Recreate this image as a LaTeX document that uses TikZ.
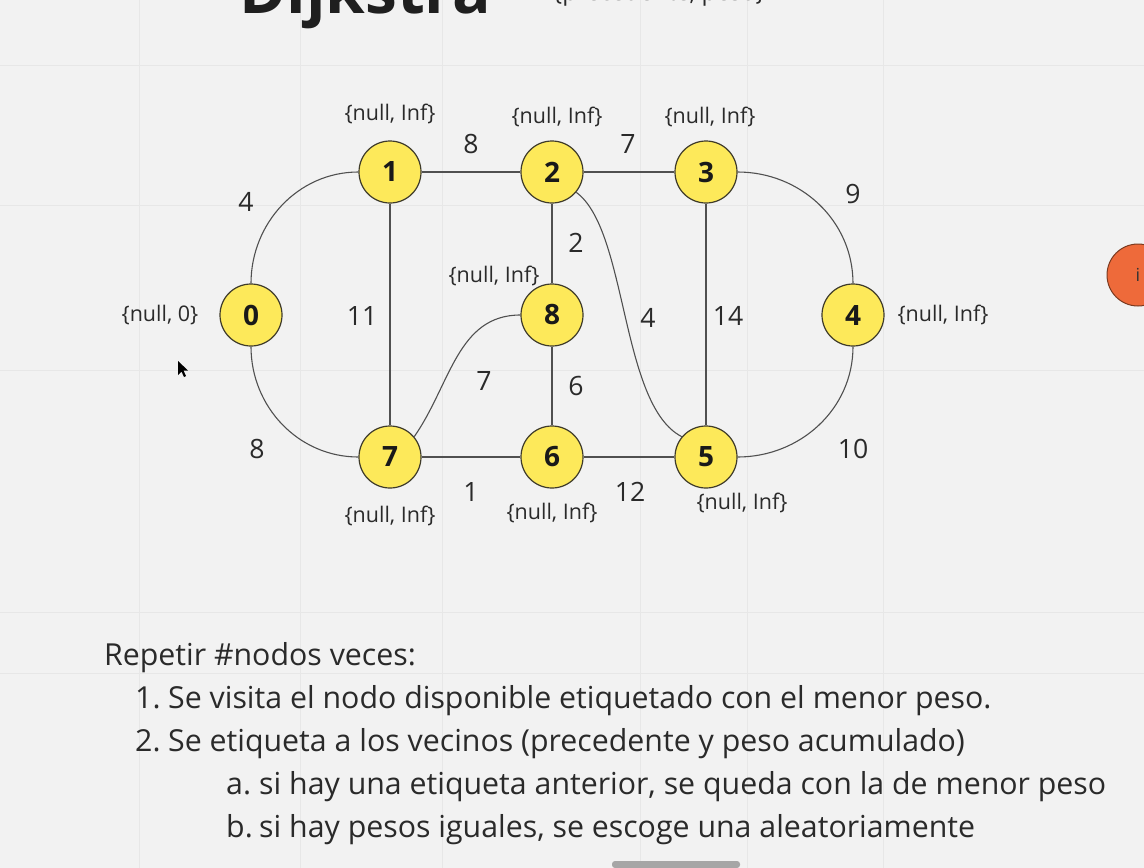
\documentclass[tikz,border=0pt]{standalone}
\usepackage{fontspec}
\setmainfont{Open Sans}
\definecolor{bg}{HTML}{F2F2F2}
\definecolor{gridc}{HTML}{E7E7E7}
\definecolor{nodefill}{HTML}{FDE95A}
\definecolor{nodeedge}{HTML}{3F3B2A}
\definecolor{edgec}{HTML}{505050}
\definecolor{txt}{HTML}{2A2A2A}
\definecolor{orangec}{HTML}{EE6A3A}
\definecolor{orangeedge}{HTML}{7A3A20}
\begin{document}
\begin{tikzpicture}[x=1pt,y=-1pt,
  vert/.style={circle,draw=nodeedge,line width=1.2pt,fill=nodefill,minimum size=62pt,inner sep=0pt,
    font=\fontsize{28}{32}\selectfont\bfseries,text=black!90},
  edge/.style={draw=edgec,line width=1.1pt},
  wlabel/.style={font=\fontsize{26.6}{30}\selectfont,text=txt,inner sep=0pt},
  slabel/.style={font=\fontsize{21.5}{26}\selectfont,text=txt,inner sep=0pt},
  body/.style={font=\fontsize{30.3}{36}\selectfont,text=txt,inner sep=0pt,anchor=base west}]
\useasboundingbox (0,0) rectangle (1144,868);
\begin{scope}
\clip (0,0) rectangle (1144,868);
\fill[bg] (0,0) rectangle (1144,868);
% faint grid
\foreach \yy in {65,205,370,612,673} \draw[gridc,line width=0.8pt] (0,\yy) -- (1144,\yy);
\foreach \xx in {139,300,442,640,747,883} \draw[gridc,line width=0.8pt] (\xx,0) -- (\xx,868);
% title (cut off at the top, as in the reference)
\node[anchor=base west,inner sep=0pt,font=\fontsize{64}{70}\selectfont\bfseries,text=black!88] (title) at (239,13) {Dijkstra};
\node[anchor=base west,inner sep=0pt,font=\fontsize{24}{28}\selectfont,text=txt] (subtitle) at (553,0.5) {\{precedente, peso\}};
% nodes
\node[vert] (n0) at (251,315) {0};
\node[vert] (n1) at (390,172) {1};
\node[vert] (n2) at (552,172) {2};
\node[vert] (n3) at (706,172) {3};
\node[vert] (n4) at (853,315) {4};
\node[vert] (n5) at (706,457) {5};
\node[vert] (n6) at (552,457) {6};
\node[vert] (n7) at (390,457) {7};
\node[vert] (n8) at (552,315) {8};
% edges
\draw[edge] (n0.north) to[out=90,in=180] (n1.west);
\draw[edge] (n0.south) to[out=-90,in=180] (n7.west);
\draw[edge] (n1) -- (n2);
\draw[edge] (n2) -- (n3);
\draw[edge] (n1) -- (n7);
\draw[edge] (n2) -- (n8);
\draw[edge] (n8) -- (n6);
\draw[edge] (n3) -- (n5);
\draw[edge] (n7) -- (n6);
\draw[edge] (n6) -- (n5);
\draw[edge] (n3.east) to[out=0,in=90] (n4.north);
\draw[edge] (n4.south) to[out=-90,in=0] (n5.east);
\draw[edge] (n7.40) to[out=55,in=180] (n8.west);
\draw[edge] (n2.-40) .. controls (628,230) and (620,405) .. (n5.140);
% edge weights
\node[wlabel] (w01) at (246,202) {4};
\node[wlabel] (w12) at (471,144) {8};
\node[wlabel] (w23) at (628,144) {7};
\node[wlabel] (w34) at (853,194) {9};
\node[wlabel] (w28) at (576,243) {2};
\node[wlabel] (w17) at (362,316) {11};
\node[wlabel] (w25) at (648,318) {4};
\node[wlabel] (w35) at (728,316) {14};
\node[wlabel] (w78) at (484,381) {7};
\node[wlabel] (w86) at (576,386) {6};
\node[wlabel] (w07) at (257,449) {8};
\node[wlabel] (w76) at (471,492) {1};
\node[wlabel] (w65) at (630,492) {12};
\node[wlabel] (w45) at (853,449) {10};
% node tags
\node[slabel] (t1) at (390,114) {\{null, Inf\}};
\node[slabel] (t2) at (557,117) {\{null, Inf\}};
\node[slabel] (t3) at (710,117) {\{null, Inf\}};
\node[slabel] (t0) at (160,315) {\{null, 0\}};
\node[slabel] (t4) at (943,315) {\{null, Inf\}};
\node[slabel] (t8) at (494,276) {\{null, Inf\}};
\node[slabel] (t7) at (390,516) {\{null, Inf\}};
\node[slabel] (t6) at (552,513) {\{null, Inf\}};
\node[slabel] (t5) at (742,503) {\{null, Inf\}};
% orange bubble at right edge
\node[circle,draw=orangeedge,line width=1pt,fill=orangec,minimum size=62pt,inner sep=0pt,
  font=\fontsize{18}{20}\selectfont,text=black!80] (bubble) at (1138,275) {i};
% cursor
\fill[black] (178,361) -- (178,375) -- (181.5,371.5) -- (184,377) -- (186,376) -- (183.5,370.5) -- (188,370.5) -- cycle;
% instructions
\node[body] (r0) at (104,665) {Repetir \#nodos veces:};
\node[body] (r1) at (135,708) {1.};
\node[body] (r1t) at (168,708) {Se visita el nodo disponible etiquetado con el menor peso.};
\node[body] (r2) at (135,751) {2.};
\node[body] (r2t) at (168,751) {Se etiqueta a los vecinos (precedente y peso acumulado)};
\node[body] (r3) at (226,794) {a.};
\node[body] (r3t) at (259,794) {si hay una etiqueta anterior, se queda con la de menor peso};
\node[body] (r4) at (226,837) {b.};
\node[body] (r4t) at (259,837) {si hay pesos iguales, se escoge una aleatoriamente};
% scroll bar
\fill[black!35,rounded corners=3pt] (612,861) rectangle (740,868);
\end{scope}
\end{tikzpicture}
\end{document}
